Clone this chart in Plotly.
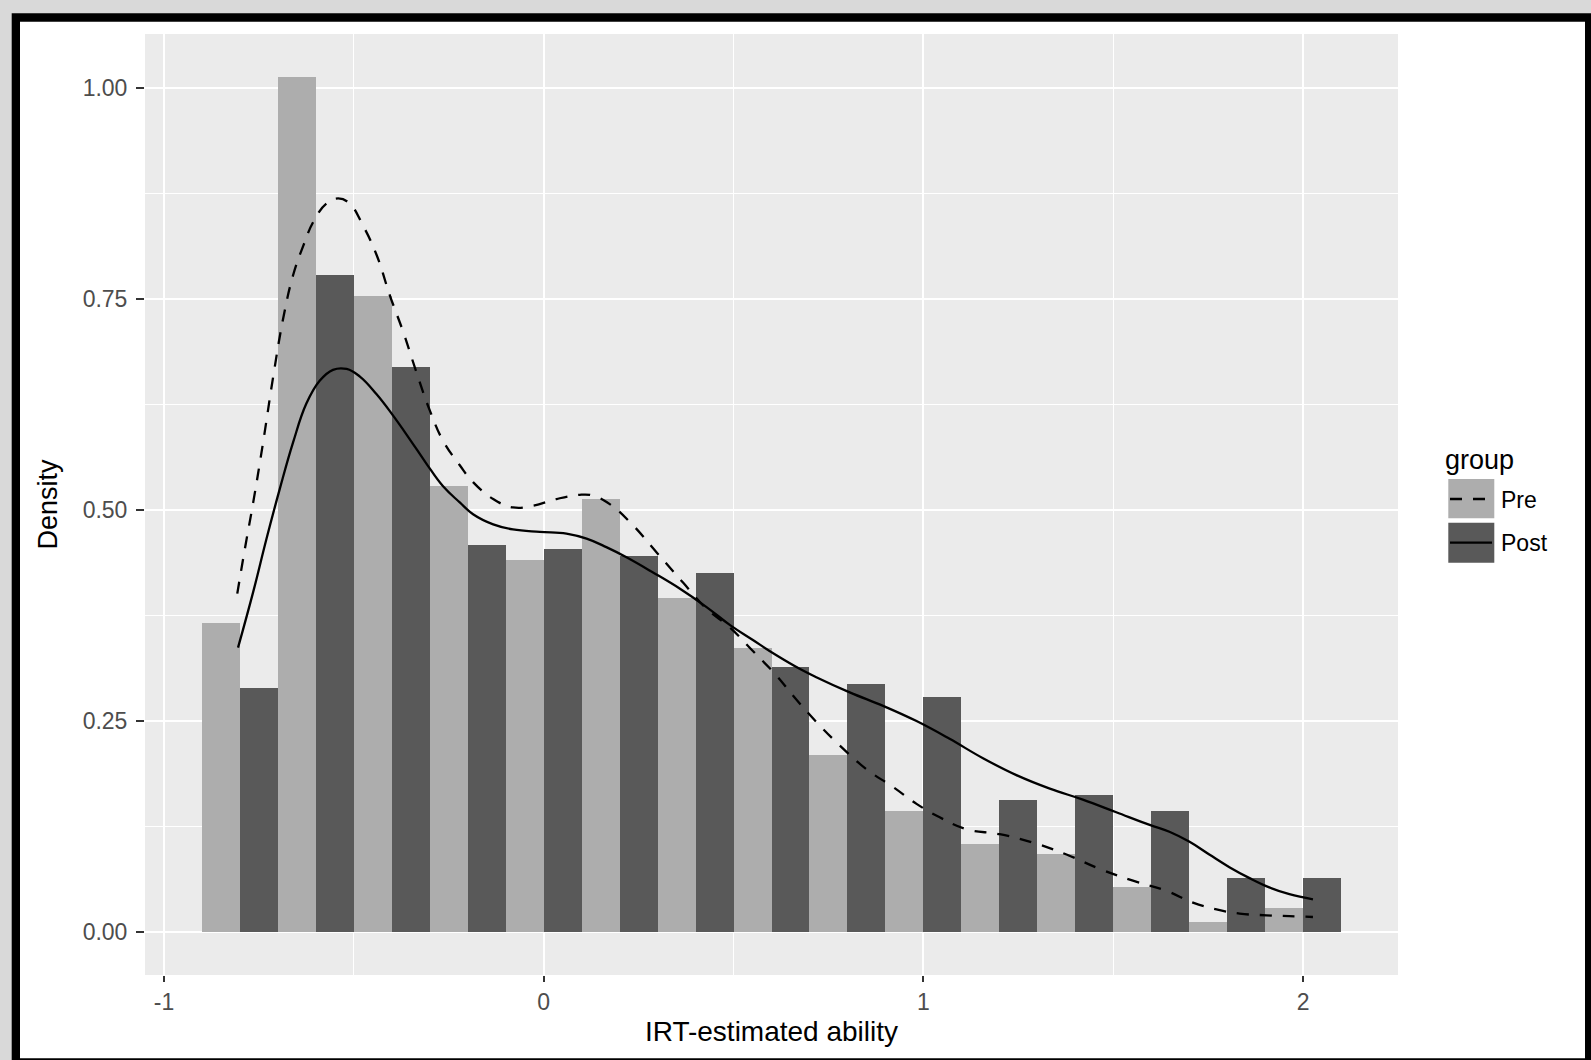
import plotly.graph_objects as go

# ---------------- data ----------------
groups = ["Pre", "Post"]
bin_centers = [-0.8, -0.6, -0.4, -0.2, 0.0, 0.2, 0.4, 0.6, 0.8, 1.0, 1.2, 1.4, 1.6, 1.8, 2.0]
pre_density = [0.366, 1.013, 0.753, 0.529, 0.441, 0.513, 0.396, 0.337, 0.210, 0.143,
               0.104, 0.093, 0.054, 0.0115, 0.029]
post_density = [0.289, 0.778, 0.669, 0.459, 0.454, 0.445, 0.425, 0.314, 0.294, 0.278,
                0.156, 0.163, 0.143, 0.0636, 0.0636]

pre_curve_x = [-0.807, -0.787, -0.765, -0.739, -0.712, -0.686, -0.660, -0.633, -0.607, -0.572,
               -0.541, -0.511, -0.476, -0.440, -0.405, -0.370, -0.335, -0.300, -0.265, -0.221,
               -0.186, -0.133, -0.081, -0.028, 0.034, 0.095, 0.130, 0.174, 0.235, 0.297,
               0.367, 0.429, 0.490, 0.551, 0.613, 0.657, 0.718, 0.780, 0.850, 0.920,
               0.982, 1.043, 1.113, 1.201, 1.289, 1.377, 1.464, 1.552, 1.640, 1.710,
               1.772, 1.833, 1.903, 1.964, 2.026]
pre_curve_y = [0.401, 0.454, 0.509, 0.580, 0.659, 0.727, 0.778, 0.813, 0.841, 0.863,
               0.869, 0.863, 0.837, 0.802, 0.754, 0.711, 0.663, 0.618, 0.582, 0.553,
               0.533, 0.513, 0.503, 0.505, 0.513, 0.518, 0.517, 0.507, 0.482, 0.450,
               0.414, 0.383, 0.361, 0.333, 0.304, 0.280, 0.249, 0.221, 0.193, 0.172,
               0.152, 0.136, 0.122, 0.116, 0.106, 0.092, 0.075, 0.061, 0.049, 0.035,
               0.027, 0.022, 0.020, 0.019, 0.018]

post_curve_x = [-0.805, -0.765, -0.730, -0.695, -0.660, -0.625, -0.590, -0.555, -0.519, -0.484,
                -0.440, -0.397, -0.353, -0.309, -0.265, -0.221, -0.186, -0.133, -0.081, -0.010,
                0.060, 0.113, 0.165, 0.218, 0.288, 0.358, 0.429, 0.490, 0.551, 0.613,
                0.674, 0.718, 0.806, 0.894, 0.982, 1.069, 1.157, 1.245, 1.333, 1.420,
                1.508, 1.596, 1.648, 1.701, 1.753, 1.806, 1.859, 1.911, 1.964, 2.026]
post_curve_y = [0.337, 0.403, 0.466, 0.525, 0.580, 0.626, 0.653, 0.666, 0.667, 0.658,
                0.637, 0.612, 0.584, 0.555, 0.528, 0.509, 0.495, 0.483, 0.477, 0.474,
                0.472, 0.466, 0.456, 0.444, 0.426, 0.407, 0.385, 0.364, 0.346, 0.328,
                0.312, 0.302, 0.284, 0.268, 0.250, 0.229, 0.206, 0.186, 0.170, 0.157,
                0.142, 0.127, 0.119, 0.107, 0.092, 0.077, 0.064, 0.053, 0.045, 0.039]

x_tickvals = [-1, 0, 1, 2]
x_ticktext = ["-1", "0", "1", "2"]
x_minor = [-0.5, 0.5, 1.5]
y_tickvals = [0, 0.25, 0.5, 0.75, 1.0]
y_ticktext = ["0.00", "0.25", "0.50", "0.75", "1.00"]
y_minor = [0.125, 0.375, 0.625, 0.875]

x_label = "IRT-estimated ability"
y_label = "Density"
legend_title = "group"

# ---------------- style ----------------
W, H = 1591, 1060
L, R, T, B = 145, 193, 34, 85
PW, PH = W - L - R, H - T - B
FONT = "Liberation Sans, Arial, Helvetica, sans-serif"
PRE_FILL = "#ADADAD"
POST_FILL = "#595959"
DASH = "12px,11px"
LW = 2.3


def px2x(px):
    return (px - L) / PW


def py2y(py):
    return (H - B - py) / PH


fig = go.Figure()
fig.add_trace(go.Bar(x=bin_centers, y=pre_density, name=groups[0],
                     marker=dict(color=PRE_FILL, line=dict(width=0)), showlegend=False))
fig.add_trace(go.Bar(x=bin_centers, y=post_density, name=groups[1],
                     marker=dict(color=POST_FILL, line=dict(width=0)), showlegend=False))
fig.add_trace(go.Scatter(x=pre_curve_x, y=pre_curve_y, mode="lines", name=groups[0],
                         line=dict(color="black", width=LW, dash=DASH, shape="spline", smoothing=1.2),
                         showlegend=False))
fig.add_trace(go.Scatter(x=post_curve_x, y=post_curve_y, mode="lines", name=groups[1],
                         line=dict(color="black", width=LW, shape="spline", smoothing=1.2),
                         showlegend=False))

shapes = [
    # black frame
    dict(type="rect", xref="paper", yref="paper", x0=px2x(11.7), x1=px2x(1610),
         y0=py2y(1080), y1=py2y(13.3), fillcolor="black", line=dict(width=0), layer="below"),
    # white inner
    dict(type="rect", xref="paper", yref="paper", x0=px2x(20), x1=px2x(1585),
         y0=py2y(1058.3), y1=py2y(21.7), fillcolor="white", line=dict(width=0), layer="below"),
    # panel
    dict(type="rect", xref="paper", yref="paper", x0=0, x1=1, y0=0, y1=1,
         fillcolor="#EBEBEB", line=dict(width=0), layer="below"),
    # legend keys
    dict(type="rect", xref="paper", yref="paper", x0=px2x(1448.3), x1=px2x(1494.3),
         y0=py2y(518.3), y1=py2y(479), fillcolor=PRE_FILL, line=dict(width=0)),
    dict(type="rect", xref="paper", yref="paper", x0=px2x(1448.3), x1=px2x(1494.3),
         y0=py2y(562.7), y1=py2y(522.7), fillcolor=POST_FILL, line=dict(width=0)),
    dict(type="line", xref="paper", yref="paper", x0=px2x(1450), x1=px2x(1492),
         y0=py2y(499), y1=py2y(499), line=dict(color="black", width=LW, dash=DASH)),
    dict(type="line", xref="paper", yref="paper", x0=px2x(1450), x1=px2x(1492),
         y0=py2y(542.7), y1=py2y(542.7), line=dict(color="black", width=LW)),
]

annotations = [
    dict(text=legend_title, xref="paper", yref="paper", x=px2x(1443), y=py2y(460),
         xanchor="left", yanchor="middle", showarrow=False, font=dict(size=27, color="black", family=FONT)),
    dict(text=groups[0], xref="paper", yref="paper", x=px2x(1499), y=py2y(499.5),
         xanchor="left", yanchor="middle", showarrow=False, font=dict(size=23, color="black", family=FONT)),
    dict(text=groups[1], xref="paper", yref="paper", x=px2x(1499), y=py2y(543),
         xanchor="left", yanchor="middle", showarrow=False, font=dict(size=23, color="black", family=FONT)),
]

fig.update_layout(
    width=W, height=H,
    margin=dict(l=L, r=R, t=T, b=B, autoexpand=False),
    paper_bgcolor="#D9D9D9",
    plot_bgcolor="rgba(0,0,0,0)",
    barmode="group", bargap=0, bargroupgap=0,
    showlegend=False,
    font=dict(family=FONT),
    shapes=shapes,
    annotations=annotations,
    xaxis=dict(
        range=[-1.05, 2.25], tickmode="array", tickvals=x_tickvals, ticktext=x_ticktext,
        showgrid=True, gridcolor="white", gridwidth=2.4, zeroline=False, showline=False,
        ticks="outside", ticklen=6, tickwidth=1.5, tickcolor="#333333",
        tickfont=dict(size=23, color="#4D4D4D", family=FONT),
        minor=dict(tickmode="array", tickvals=x_minor, showgrid=True, gridcolor="white", gridwidth=1.1, ticks=""),
        title=dict(text=x_label, font=dict(size=28, color="black", family=FONT), standoff=7),
    ),
    yaxis=dict(
        range=[-0.0507, 1.0637], tickmode="array", tickvals=y_tickvals, ticktext=y_ticktext,
        showgrid=True, gridcolor="white", gridwidth=2.4, zeroline=False, showline=False,
        ticks="outside", ticklen=8, tickwidth=1.5, tickcolor="#333333",
        tickfont=dict(size=23, color="#4D4D4D", family=FONT),
        ticklabelstandoff=4,
        minor=dict(tickmode="array", tickvals=y_minor, showgrid=True, gridcolor="white", gridwidth=1.1, ticks=""),
        title=dict(text=y_label, font=dict(size=27, color="black", family=FONT), standoff=17),
    ),
)

fig.write_html("out.html",
               config={"displayModeBar": False},
               post_script="document.body.style.margin='0px';document.body.style.overflow='hidden';")
